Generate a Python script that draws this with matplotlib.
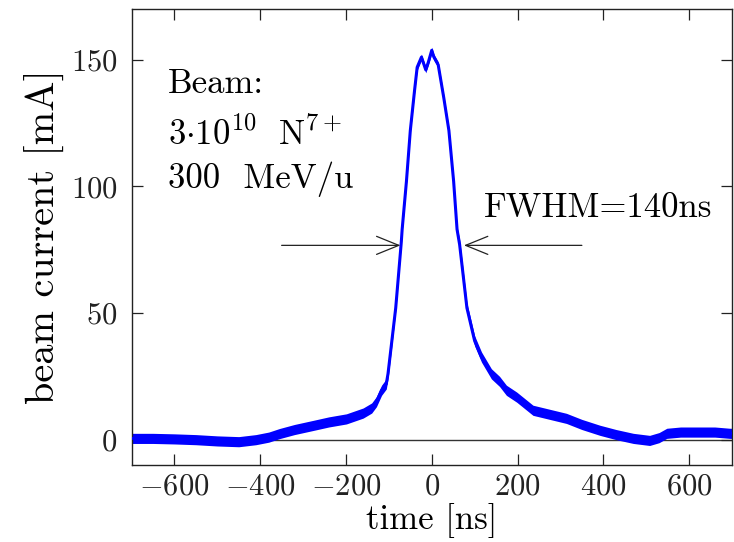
import numpy as np
import matplotlib
matplotlib.use("Agg")
import matplotlib.pyplot as plt
from matplotlib.patches import FancyArrowPatch

plt.rcParams['font.family'] = ['cmr10', 'DejaVu Serif']
plt.rcParams['mathtext.fontset'] = 'cm'
plt.rcParams['axes.formatter.use_mathtext'] = True

# data (time in ns, current in mA)
time_ns = [-700, -650, -600, -550, -500, -450, -410, -380, -355, -320, -277,
           -240, -199, -160, -140, -129, -117, -106, -102, -93, -84, -71,
           -69, -59, -50, -40, -34, -24, -14, -8, 0, 5, 15, 28, 40, 51, 59,
           65, 82, 100, 116, 139, 158, 174, 198, 236, 275, 314, 350, 392,
           430, 470, 508, 530, 548, 580, 626, 660, 695, 700]
current_mA = [0.5, 0.5, 0.3, 0.0, -0.5, -0.8, 0.0, 1.0, 2.4, 4.0, 5.6,
              7.0, 8.2, 10.5, 12.5, 15.0, 19.5, 22.0, 26.0, 39.0, 52.0, 78.0,
              83.0, 102.0, 122.0, 138.0, 147.0, 151.0, 146.0, 149.0, 153.7,
              151.0, 148.0, 135.0, 122.0, 102.0, 83.0, 77.0, 52.0, 39.0, 32.6,
              26.0, 23.0, 19.5, 16.8, 11.6, 10.0, 8.4, 6.0, 3.7, 2.0, 0.5,
              -0.3, 0.8, 2.5, 3.0, 3.0, 3.0, 2.5, 2.5]
noise_mA = [2.0] * 20 + [1.2] * 17 + [2.0] * 23

x_ticks = [-600, -400, -200, 0, 200, 400, 600]
y_ticks = [0, 50, 100, 150]
fwhm_left, fwhm_right, fwhm_level = -73, 75, 76.7

t = np.array(time_ns, dtype=float)
c = np.array(current_mA, dtype=float)
n = np.array(noise_mA, dtype=float)

fig = plt.figure(figsize=(7.34, 5.42), dpi=100)
ax = fig.add_axes([131.5 / 734, 77 / 542, 600.5 / 734, 456 / 542])

ax.axhline(0, color='#333333', lw=1.0, zorder=1)
ax.fill_between(t, c - n, c + n, color='#0000ff', lw=0, zorder=2)
ax.plot(t, c, color='#0000ff', lw=2.2, zorder=3)

ax.set_xlim(-700, 700)
ax.set_ylim(-10, 170)
ax.set_xticks(x_ticks)
ax.set_yticks(y_ticks)
ax.tick_params(direction='in', length=8, width=0.9, top=True, right=True,
               labelsize=22, colors='#222222')
ax.tick_params(axis='x', pad=6)
ax.tick_params(axis='y', pad=10)
for s in ax.spines.values():
    s.set_linewidth(1.0)
    s.set_color('#222222')

ax.set_xlabel('time [ns]', fontsize=25)
ax.xaxis.set_label_coords(0.5, -0.083)
ax.set_ylabel('beam current [mA]', fontsize=29, labelpad=4)

ax.text(0.061, 0.816, 'Beam:', transform=ax.transAxes, fontsize=25)
ax.text(0.061, 0.702, r'$\mathrm{3{\cdot}10^{10}\ \ N^{7+}}$',
        transform=ax.transAxes, fontsize=25)
ax.text(0.061, 0.607, '300  MeV/u', transform=ax.transAxes, fontsize=25)
ax.text(0.587, 0.5445, 'FWHM=140ns', transform=ax.transAxes, fontsize=25)

for start, tip in [(-350, fwhm_left), (350, fwhm_right)]:
    arr = FancyArrowPatch((start, fwhm_level), (tip, fwhm_level),
                          arrowstyle='->,head_length=16,head_width=6.5',
                          color='#222222', lw=0.9, mutation_scale=1,
                          shrinkA=0, shrinkB=0, zorder=4)
    ax.add_patch(arr)

fig.savefig('out.png', dpi=100)
